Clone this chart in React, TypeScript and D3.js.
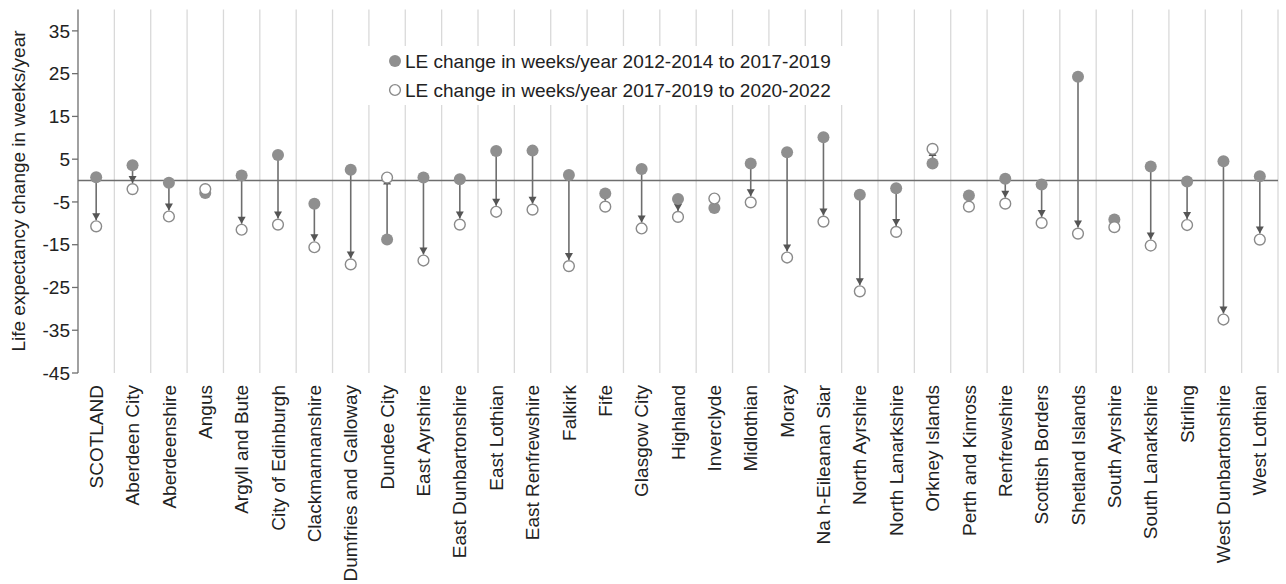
import React from "react";
import * as d3 from "d3";

const categories = [
  "SCOTLAND", "Aberdeen City", "Aberdeenshire", "Angus", "Argyll and Bute",
  "City of Edinburgh", "Clackmannanshire", "Dumfries and Galloway", "Dundee City",
  "East Ayrshire", "East Dunbartonshire", "East Lothian", "East Renfrewshire",
  "Falkirk", "Fife", "Glasgow City", "Highland", "Inverclyde", "Midlothian", "Moray",
  "Na h-Eileanan Siar", "North Ayrshire", "North Lanarkshire", "Orkney Islands",
  "Perth and Kinross", "Renfrewshire", "Scottish Borders", "Shetland Islands",
  "South Ayrshire", "South Lanarkshire", "Stirling", "West Dunbartonshire", "West Lothian",
];

// LE change in weeks/year 2012-2014 to 2017-2019 (filled)
const change2012to2017 = [
  0.8, 3.6, -0.5, -2.9, 1.2, 6.0, -5.4, 2.5, -13.8, 0.7, 0.3, 6.9, 7.0, 1.3, -3.0,
  2.7, -4.3, -6.4, 4.0, 6.6, 10.1, -3.3, -1.8, 4.0, -3.5, 0.4, -0.9, 24.3, -9.1,
  3.3, -0.2, 4.5, 1.0,
];

// LE change in weeks/year 2017-2019 to 2020-2022 (open)
const change2017to2020 = [
  -10.7, -2.0, -8.4, -2.0, -11.5, -10.3, -15.6, -19.6, 0.7, -18.7, -10.3, -7.3, -6.8,
  -20.0, -6.1, -11.2, -8.5, -4.2, -5.1, -18.0, -9.6, -25.9, -12.0, 7.4, -6.1, -5.4,
  -9.9, -12.4, -10.9, -15.2, -10.4, -32.5, -13.8,
];

const yTicks = [-45, -35, -25, -15, -5, 5, 15, 25, 35];

const legendLabels = [
  "LE change in weeks/year 2012-2014 to 2017-2019",
  "LE change in weeks/year 2017-2019 to 2020-2022",
];

const yTitle = "Life expectancy change in weeks/year";

export default function App() {
  const W = 1286;
  const H = 584;
  const left = 78;
  const right = 1278;
  const top = 9.5;
  const bottom = 373;
  const r = 6;
  const font = "'Liberation Sans', Arial, Helvetica, sans-serif";
  const fs = 19;

  const x = d3.scaleBand<string>().domain(categories).range([left, right]).padding(0);
  const y = d3.scaleLinear().domain([-45, 40]).range([bottom, top]);
  const bw = x.bandwidth();

  const gridXs = categories.map((c) => (x(c) as number) + bw);

  return (
    <svg
      width={W}
      height={H}
      style={{ position: "absolute", left: 0, top: 0, background: "#fff" }}
      fontFamily={font}
    >
      <defs>
        <marker
          id="arrow"
          markerUnits="userSpaceOnUse"
          markerWidth={10}
          markerHeight={10}
          viewBox="0 -5 8 10"
          refX={7}
          refY={0}
          orient="auto"
        >
          <path d="M0,-4L7,0L0,4Z" fill="#555555" />
        </marker>
      </defs>

      {/* vertical gridlines */}
      {gridXs.map((gx, i) => (
        <line key={"g" + i} x1={gx} x2={gx} y1={top} y2={bottom} stroke="#d9d9d9" strokeWidth={1.3} />
      ))}

      {/* left axis */}
      <line x1={left} x2={left} y1={top} y2={bottom} stroke="#6e6e6e" strokeWidth={1.3} />
      {yTicks.map((t) => (
        <g key={"t" + t}>
          <line x1={left - 6} x2={left} y1={y(t)} y2={y(t)} stroke="#6e6e6e" strokeWidth={1.3} />
          <text x={70} y={y(t)} dy="0.35em" textAnchor="end" fontSize={fs} fill="#222">
            {t}
          </text>
        </g>
      ))}

      {/* zero line */}
      <line x1={left} x2={right} y1={y(0)} y2={y(0)} stroke="#6e6e6e" strokeWidth={1.5} />

      {/* y title */}
      <text
        transform={`translate(25,${191}) rotate(-90)`}
        textAnchor="middle"
        fontSize={fs}
        fill="#222"
      >
        {yTitle}
      </text>

      {/* x labels */}
      {categories.map((c) => (
        <text
          key={"x" + c}
          transform={`translate(${(x(c) as number) + bw / 2},${bottom + 12}) rotate(-90)`}
          textAnchor="end"
          dy="0.35em"
          fontSize={fs}
          fill="#222"
        >
          {c}
        </text>
      ))}

      {/* arrows */}
      {categories.map((c, i) => {
        const cx = (x(c) as number) + bw / 2;
        const y1 = y(change2012to2017[i]);
        const y2 = y(change2017to2020[i]);
        const d = y2 - y1;
        if (Math.abs(d) < 2 * r + 1) return null;
        const end = d > 0 ? y2 - r : y2;
        return (
          <line
            key={"a" + c}
            x1={cx}
            x2={cx}
            y1={y1}
            y2={end}
            stroke="#6e6e6e"
            strokeWidth={1.6}
            markerEnd="url(#arrow)"
          />
        );
      })}

      {/* filled points */}
      {categories.map((c, i) => (
        <circle
          key={"f" + c}
          cx={(x(c) as number) + bw / 2}
          cy={y(change2012to2017[i])}
          r={r}
          fill="#8f8f8f"
        />
      ))}

      {/* open points */}
      {categories.map((c, i) => (
        <circle
          key={"o" + c}
          cx={(x(c) as number) + bw / 2}
          cy={y(change2017to2020[i])}
          r={r - 0.6}
          fill="#fff"
          stroke="#8a8a8a"
          strokeWidth={1.4}
        />
      ))}

      {/* legend */}
      <g>
        <rect x={340} y={46} width={520} height={59} fill="#fff" />
        <circle cx={395} cy={61} r={6} fill="#8f8f8f" />
        <text x={405} y={61} dy="0.35em" fontSize={fs} fill="#222">
          {legendLabels[0]}
        </text>
        <circle cx={395} cy={90} r={5.4} fill="#fff" stroke="#8a8a8a" strokeWidth={1.4} />
        <text x={405} y={90} dy="0.35em" fontSize={fs} fill="#222">
          {legendLabels[1]}
        </text>
      </g>
    </svg>
  );
}
